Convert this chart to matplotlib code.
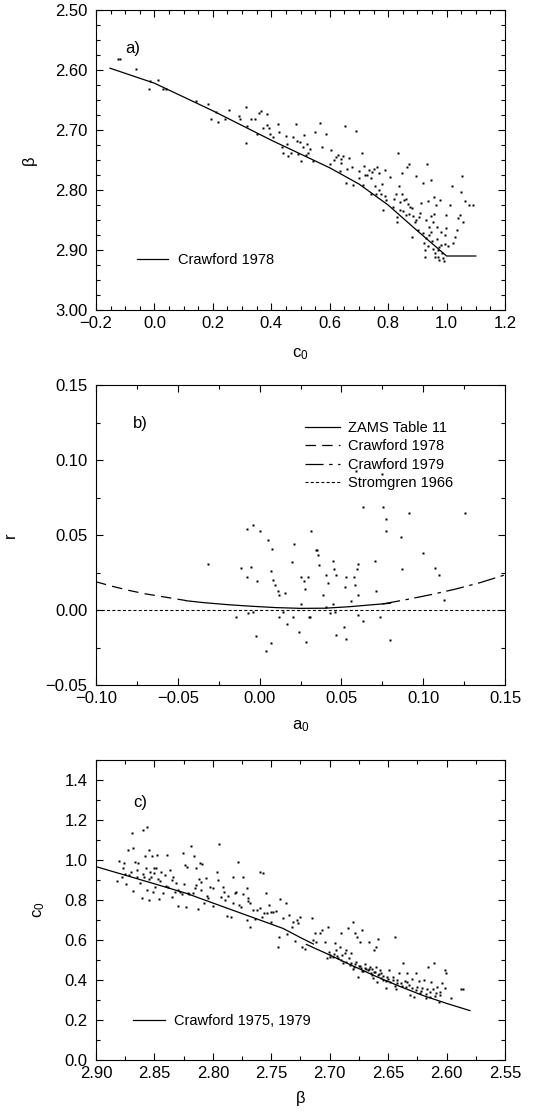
import matplotlib

matplotlib.use("Agg")
import matplotlib.pyplot as plt  # noqa: E402
from matplotlib.ticker import MultipleLocator  # noqa: E402

plt.rcParams["font.family"] = ["Liberation Sans", "DejaVu Sans"]
plt.rcParams["mathtext.default"] = "regular"
plt.rcParams["lines.scale_dashes"] = False
plt.rcParams["axes.linewidth"] = 0.8

FS = 12      # tick labels, axis labels, panel tags
LFS = 10.5   # legend text

# ---- panel a: beta vs c0 -------------------------------------------------
A_POINTS = [
    (-0.124, 2.581), (-0.118, 2.581), (-0.063, 2.599), (-0.020, 2.632), (-0.015, 2.619),
    (0.013, 2.617), (0.030, 2.631), (0.039, 2.632), (0.141, 2.651), (0.184, 2.657),
    (0.192, 2.681), (0.210, 2.670), (0.218, 2.686), (0.241, 2.681), (0.254, 2.666),
    (0.290, 2.676), (0.293, 2.682), (0.312, 2.721), (0.315, 2.662), (0.318, 2.693),
    (0.332, 2.682), (0.344, 2.681), (0.350, 2.707), (0.358, 2.671), (0.366, 2.669),
    (0.372, 2.697), (0.384, 2.691), (0.387, 2.674), (0.393, 2.696), (0.397, 2.707),
    (0.407, 2.711), (0.424, 2.690), (0.427, 2.704), (0.435, 2.728), (0.441, 2.739),
    (0.450, 2.710), (0.455, 2.723), (0.458, 2.744), (0.467, 2.739), (0.475, 2.712),
    (0.483, 2.690), (0.488, 2.718), (0.492, 2.740), (0.497, 2.720), (0.500, 2.752),
    (0.507, 2.728), (0.512, 2.709), (0.518, 2.741), (0.523, 2.724), (0.526, 2.738),
    (0.534, 2.732), (0.543, 2.752), (0.550, 2.703), (0.566, 2.688), (0.572, 2.729),
    (0.587, 2.706), (0.600, 2.756), (0.606, 2.733), (0.615, 2.750), (0.628, 2.741),
    (0.635, 2.768), (0.637, 2.749), (0.644, 2.743), (0.652, 2.694), (0.657, 2.788),
    (0.667, 2.747), (0.675, 2.762), (0.680, 2.791), (0.689, 2.701), (0.700, 2.768),
    (0.709, 2.738), (0.714, 2.792), (0.718, 2.760), (0.726, 2.775), (0.735, 2.767),
    (0.743, 2.806), (0.746, 2.770), (0.754, 2.794), (0.760, 2.806), (0.763, 2.761),
    (0.769, 2.772), (0.775, 2.807), (0.781, 2.834), (0.789, 2.767), (0.794, 2.817),
    (0.806, 2.778), (0.815, 2.828), (0.820, 2.815), (0.828, 2.806), (0.831, 2.854),
    (0.834, 2.738), (0.838, 2.794), (0.840, 2.833), (0.846, 2.772), (0.849, 2.807),
    (0.854, 2.816), (0.860, 2.842), (0.865, 2.761), (0.868, 2.823), (0.872, 2.756),
    (0.876, 2.828), (0.883, 2.878), (0.886, 2.844), (0.891, 2.854), (0.897, 2.777),
    (0.903, 2.867), (0.908, 2.839), (0.914, 2.821), (0.920, 2.788), (0.924, 2.889),
    (0.925, 2.911), (0.929, 2.850), (0.933, 2.756), (0.937, 2.819), (0.940, 2.875),
    (0.945, 2.844), (0.948, 2.783), (0.952, 2.853), (0.956, 2.811), (0.960, 2.911),
    (0.963, 2.825), (0.968, 2.861), (0.971, 2.900), (0.974, 2.917), (0.977, 2.816),
    (0.982, 2.892), (0.988, 2.914), (0.993, 2.875), (0.997, 2.842), (0.999, 2.864),
    (1.005, 2.894), (1.011, 2.825), (1.017, 2.794), (1.022, 2.889), (1.028, 2.878),
    (1.034, 2.867), (1.039, 2.846), (1.045, 2.842), (1.049, 2.803), (1.052, 2.776),
    (1.057, 2.853), (1.062, 2.819), (1.077, 2.825), (1.091, 2.825),
    (0.930, 2.880), (0.935, 2.893), (0.945, 2.870), (0.950, 2.885), (0.955, 2.898),
    (0.962, 2.905), (0.966, 2.882), (0.970, 2.912), (0.975, 2.895), (0.980, 2.870),
    (0.985, 2.905), (0.990, 2.918), (0.995, 2.890), (0.920, 2.872), (0.940, 2.862),
    (0.958, 2.840), (0.925, 2.900), (0.840, 2.820), (0.850, 2.835), (0.830, 2.845),
    (0.870, 2.840), (0.860, 2.815), (0.880, 2.830), (0.895, 2.850), (0.905, 2.845),
    (0.620, 2.745), (0.640, 2.755), (0.660, 2.765), (0.720, 2.775), (0.740, 2.780),
    (0.770, 2.800), (0.780, 2.790), (0.790, 2.810), (0.750, 2.765), (0.700, 2.780),
]
A_LINE_C0 = [-0.152, 0.0, 0.2, 0.4, 0.6, 0.7, 0.8, 0.9, 1.0, 1.10]
A_LINE_BETA = [2.597, 2.622, 2.668, 2.717, 2.763, 2.790, 2.825, 2.868, 2.910, 2.910]

# ---- panel b: r vs a0 ----------------------------------------------------
B_POINTS = [
    (-0.0314, 0.0308), (-0.0116, 0.0281), (-0.0076, 0.0219), (-0.0076, 0.0539),
    (-0.0053, 0.0290), (-0.0043, 0.0566), (-0.0070, -0.0022), (-0.0039, -0.0011),
    (-0.0147, -0.0044), (-0.0025, -0.0173), (-0.0013, 0.0192), (0.0004, 0.0530),
    (0.0053, 0.0468), (0.0067, 0.0259), (0.0075, 0.0405), (0.0083, 0.0201),
    (0.0095, 0.0170), (0.0114, 0.0130), (0.0116, 0.0098), (0.0116, -0.0044),
    (0.0067, -0.0222), (0.0042, -0.0271), (0.0144, -0.0011), (0.0154, 0.0114),
    (0.0169, -0.0093), (0.0201, 0.0317), (0.0205, -0.0044), (0.0209, 0.0441),
    (0.0242, -0.0144), (0.0256, 0.0040), (0.0256, 0.0219), (0.0270, 0.0192),
    (0.0276, 0.0139), (0.0283, -0.0213), (0.0297, 0.0219), (0.0303, -0.0044),
    (0.0311, -0.0044), (0.0317, 0.0530), (0.0342, 0.0399), (0.0352, 0.0397),
    (0.0358, 0.0370), (0.0364, 0.0299), (0.0388, 0.0098), (0.0405, 0.0236),
    (0.0405, 0.0023), (0.0419, 0.0179), (0.0433, -0.0022), (0.0446, 0.0325),
    (0.0450, 0.0040), (0.0456, 0.0272), (0.0466, 0.0236), (0.0460, -0.0011),
    (0.0470, -0.0164), (0.0521, 0.0156), (0.0517, -0.0111), (0.0531, 0.0219),
    (0.0531, -0.0191), (0.0561, 0.0058), (0.0578, 0.0219), (0.0582, 0.0167),
    (0.0596, 0.0272), (0.0602, 0.0308), (0.0602, 0.0098), (0.0602, -0.0033),
    (0.0633, 0.0690), (0.0633, -0.0075), (0.0708, 0.0325), (0.0714, 0.0130),
    (0.0735, -0.0044), (0.0755, 0.0690), (0.0775, 0.0610), (0.0775, 0.0530),
    (0.0796, -0.0200), (0.0867, 0.0486), (0.0873, 0.0272), (0.0914, 0.0650),
    (0.0999, 0.0379), (0.1070, 0.0281), (0.1097, 0.0236), (0.1125, 0.0067),
    (0.1258, 0.0650), (0.0587, 0.0927), (0.0746, 0.0907),
]
ZAMS_A0 = [-0.045, -0.035, -0.02, -0.005, 0.01, 0.025, 0.04, 0.055, 0.07, 0.08]
ZAMS_R = [0.0062, 0.0050, 0.0036, 0.0025, 0.0016, 0.0011, 0.0012, 0.0022, 0.0036, 0.0045]
C78_A0 = [-0.10, -0.09, -0.08, -0.07, -0.06, -0.05, -0.045]
C78_R = [0.0188, 0.0158, 0.0131, 0.0108, 0.0090, 0.0072, 0.0063]
C79_A0 = [0.075, 0.09, 0.105, 0.12, 0.135, 0.15]
C79_R = [0.0040, 0.0070, 0.0103, 0.0140, 0.0183, 0.0234]
S66_A0 = [-0.10, 0.15]
S66_R = [0.0, 0.0]

# ---- panel c: c0 vs beta -------------------------------------------------
C_POINTS = [
    (2.8823, 0.897), (2.880, 0.997), (2.878, 0.913), (2.8766, 0.958), (2.876, 0.983),
    (2.8743, 0.880), (2.8723, 1.050), (2.8715, 0.925), (2.8704, 0.942), (2.8695, 1.133),
    (2.8686, 0.847), (2.868, 1.058), (2.8667, 0.992), (2.8652, 0.917), (2.864, 0.987),
    (2.8624, 0.883), (2.861, 0.808), (2.8595, 1.150), (2.859, 0.917), (2.858, 1.020),
    (2.8573, 0.958), (2.8567, 1.163), (2.856, 0.850), (2.855, 1.050), (2.8547, 0.800),
    (2.8538, 0.942), (2.853, 0.913), (2.8518, 1.020), (2.851, 0.842), (2.850, 0.933),
    (2.8496, 0.867), (2.8487, 0.958), (2.848, 1.025), (2.8467, 0.903), (2.8458, 0.803),
    (2.8447, 0.942), (2.843, 0.833), (2.841, 0.925), (2.8396, 1.025), (2.838, 0.867),
    (2.8367, 0.950), (2.8353, 0.817), (2.834, 0.913), (2.8325, 0.842), (2.8316, 0.883),
    (2.8296, 0.770), (2.828, 0.842), (2.8267, 0.830), (2.8253, 1.037), (2.824, 0.975),
    (2.823, 0.767), (2.822, 0.963), (2.821, 0.837), (2.819, 1.070), (2.8173, 0.833),
    (2.816, 1.020), (2.8145, 0.875), (2.814, 0.958), (2.8125, 0.753), (2.8116, 0.903),
    (2.811, 0.983), (2.810, 0.850), (2.8097, 0.980), (2.8077, 0.783), (2.806, 0.908),
    (2.804, 0.808), (2.8025, 0.867), (2.8002, 0.770), (2.7968, 0.942), (2.7954, 0.900),
    (2.7945, 1.080), (2.7934, 0.817), (2.7917, 0.867), (2.7906, 0.842), (2.7883, 0.722),
    (2.7869, 0.820), (2.7849, 0.713), (2.7831, 0.913), (2.7826, 0.787), (2.7811, 0.837),
    (2.7783, 0.992), (2.7774, 0.775), (2.7763, 0.767), (2.7746, 0.917), (2.774, 0.830),
    (2.7712, 0.700), (2.7706, 0.858), (2.7698, 0.797), (2.7683, 0.667), (2.7678, 0.787),
    (2.766, 0.750), (2.764, 0.703), (2.7626, 0.750), (2.7598, 0.942), (2.7583, 0.717),
    (2.757, 0.933), (2.756, 0.737), (2.7546, 0.837), (2.7535, 0.733), (2.7518, 0.775),
    (2.7506, 0.692), (2.7484, 0.742), (2.746, 0.747), (2.744, 0.567), (2.7432, 0.613),
    (2.7427, 0.803), (2.7404, 0.708), (2.7375, 0.787), (2.7364, 0.630), (2.7347, 0.725),
    (2.7327, 0.667), (2.731, 0.692), (2.7298, 0.597), (2.7284, 0.700), (2.727, 0.687),
    (2.7256, 0.713), (2.7241, 0.567), (2.7213, 0.553), (2.715, 0.708), (2.7142, 0.600),
    (2.7128, 0.637), (2.712, 0.592), (2.7085, 0.637), (2.7062, 0.650), (2.7042, 0.592),
    (2.7013, 0.663), (2.7022, 0.508), (2.7005, 0.542), (2.6994, 0.525), (2.6976, 0.513),
    (2.6956, 0.583), (2.6948, 0.550), (2.6937, 0.520), (2.6928, 0.508), (2.6914, 0.563),
    (2.690, 0.637), (2.6891, 0.525), (2.6885, 0.487), (2.6871, 0.533), (2.6857, 0.550),
    (2.6842, 0.658), (2.6834, 0.508), (2.6828, 0.475), (2.6814, 0.533), (2.6805, 0.692),
    (2.6794, 0.467), (2.6786, 0.633), (2.6777, 0.492), (2.6765, 0.617), (2.6757, 0.417),
    (2.6748, 0.470), (2.6737, 0.592), (2.6728, 0.458), (2.672, 0.650), (2.6714, 0.447),
    (2.670, 0.480), (2.6686, 0.453), (2.6671, 0.450), (2.6663, 0.592), (2.6651, 0.467),
    (2.6643, 0.433), (2.6634, 0.453), (2.6629, 0.408), (2.6623, 0.550), (2.6614, 0.442),
    (2.6606, 0.567), (2.660, 0.467), (2.6594, 0.392), (2.6586, 0.603), (2.6586, 0.425),
    (2.6572, 0.450), (2.6557, 0.433), (2.6543, 0.400), (2.652, 0.358), (2.6509, 0.413),
    (2.6492, 0.450), (2.648, 0.392), (2.6458, 0.417), (2.6443, 0.613), (2.6435, 0.353),
    (2.6423, 0.400), (2.6406, 0.433), (2.6386, 0.383), (2.6372, 0.487), (2.6358, 0.397),
    (2.635, 0.363), (2.6338, 0.437), (2.6321, 0.375), (2.631, 0.325), (2.6292, 0.403),
    (2.6281, 0.313), (2.6264, 0.433), (2.6252, 0.367), (2.6235, 0.397), (2.6224, 0.333),
    (2.6207, 0.358), (2.6196, 0.400), (2.6178, 0.308), (2.6167, 0.353), (2.6158, 0.467),
    (2.6144, 0.313), (2.613, 0.392), (2.6116, 0.353), (2.6107, 0.483), (2.6093, 0.333),
    (2.6082, 0.367), (2.6064, 0.292), (2.6053, 0.342), (2.6036, 0.383), (2.6016, 0.358),
    (2.6013, 0.450), (2.6007, 0.433), (2.5959, 0.308), (2.5873, 0.353), (2.5859, 0.353),
    (2.690, 0.500), (2.686, 0.492), (2.682, 0.485), (2.678, 0.478), (2.674, 0.470),
    (2.670, 0.462), (2.666, 0.455), (2.662, 0.440), (2.658, 0.432), (2.654, 0.420),
    (2.650, 0.405), (2.646, 0.398), (2.642, 0.385), (2.638, 0.372), (2.634, 0.388),
    (2.630, 0.360), (2.626, 0.352), (2.622, 0.345), (2.618, 0.330), (2.614, 0.342),
    (2.610, 0.318), (2.606, 0.325), (2.700, 0.515), (2.696, 0.530), (2.680, 0.455),
    (2.672, 0.445), (2.664, 0.425), (2.656, 0.412), (2.652, 0.395), (2.644, 0.372),
    (2.860, 0.930), (2.855, 0.905), (2.850, 0.960), (2.845, 0.895), (2.840, 0.870),
    (2.835, 0.900), (2.830, 0.850), (2.825, 0.880), (2.820, 0.830), (2.815, 0.860),
    (2.810, 0.890), (2.805, 0.820), (2.800, 0.860), (2.790, 0.800), (2.780, 0.840),
    (2.770, 0.810), (2.760, 0.760), (2.750, 0.740), (2.865, 0.950), (2.875, 0.930),
]
C79_BETA = [2.90, 2.85, 2.8225, 2.80, 2.7655, 2.74, 2.725, 2.714]
C79_C0 = [0.967, 0.881, 0.833, 0.785, 0.712, 0.658, 0.612, 0.580]
C75_BETA = [2.720, 2.70, 2.68, 2.66, 2.64, 2.62, 2.60, 2.58]
C75_C0 = [0.578, 0.525, 0.470, 0.417, 0.368, 0.322, 0.283, 0.247]

W, H = 533, 1112


def frame(top, bottom):
    left, right = 96, 505
    return [left / W, 1 - bottom / H, (right - left) / W, (bottom - top) / H]


def style(ax, xmaj, xmin, ymaj, ymin):
    ax.xaxis.set_major_locator(MultipleLocator(xmaj))
    ax.xaxis.set_minor_locator(MultipleLocator(xmin))
    ax.yaxis.set_major_locator(MultipleLocator(ymaj))
    ax.yaxis.set_minor_locator(MultipleLocator(ymin))
    ax.tick_params(which="both", direction="in", top=True, right=True, width=0.8,
                   labelsize=FS, colors="black")
    ax.tick_params(which="major", length=5)
    ax.tick_params(which="minor", length=2.8)
    ax.tick_params(axis="x", pad=4)
    ax.tick_params(axis="y", pad=6)


def dots(ax, pts):
    xs, ys = zip(*pts)
    ax.plot(xs, ys, "s", ms=1.7, mfc="black", mec="none", ls="none")


fig = plt.figure(figsize=(W / 100, H / 100), dpi=100)

# a)
ax = fig.add_axes(frame(10, 310))
dots(ax, A_POINTS)
ax.plot(A_LINE_C0, A_LINE_BETA, color="black", lw=0.9, label="Crawford 1978")
ax.set_xlim(-0.2, 1.2)
ax.set_ylim(3.0, 2.5)
style(ax, 0.2, 0.05, 0.1, 0.025)
ax.yaxis.set_major_formatter(lambda v, p: f"{v:.2f}")
ax.set_xlabel("c$_0$", fontsize=FS, va="baseline")
ax.xaxis.set_label_coords(0.5, -0.157)
ax.set_ylabel("β", fontsize=FS)
ax.yaxis.set_label_coords(-0.144, 0.5)
ax.text(0.071, 0.873, "a)", transform=ax.transAxes, fontsize=FS, va="center")
ax.legend(loc="center left", bbox_to_anchor=(0.1, 0.167), frameon=False, fontsize=LFS,
          handlelength=2.1, handletextpad=0.7, borderpad=0, borderaxespad=0)

# b)
ax = fig.add_axes(frame(385, 685))
dots(ax, B_POINTS)
ax.plot(ZAMS_A0, ZAMS_R, color="black", lw=0.9, label="ZAMS Table 11")
ax.plot(C78_A0, C78_R, color="black", lw=0.9, dashes=(7.5, 4.5), label="Crawford 1978")
ax.plot(C79_A0, C79_R, color="black", lw=0.9, dashes=(13, 4, 2.5, 4), label="Crawford 1979")
ax.plot(S66_A0, S66_R, color="black", lw=0.8, dashes=(2.2, 1.6), label="Stromgren 1966")
ax.set_xlim(-0.10, 0.15)
ax.set_ylim(-0.05, 0.15)
style(ax, 0.05, 0.025, 0.05, 0.025)
ax.set_xlabel("a$_0$", fontsize=FS, va="baseline")
ax.xaxis.set_label_coords(0.5, -0.147)
ax.set_ylabel("r", fontsize=FS)
ax.yaxis.set_label_coords(-0.19, 0.5)
ax.text(0.09, 0.873, "b)", transform=ax.transAxes, fontsize=FS, va="center")
ax.legend(loc="upper left", bbox_to_anchor=(0.511, 0.88), frameon=False, fontsize=LFS,
          handlelength=2.4, handletextpad=0.55, labelspacing=0.3,
          borderpad=0, borderaxespad=0)

# c)
ax = fig.add_axes(frame(760, 1060))
dots(ax, C_POINTS)
ax.plot(C79_BETA, C79_C0, color="black", lw=0.9, label="Crawford 1975, 1979")
ax.plot(C75_BETA, C75_C0, color="black", lw=0.9)
ax.set_xlim(2.90, 2.55)
ax.set_ylim(0.0, 1.5)
style(ax, 0.05, 0.025, 0.2, 0.1)
ax.set_xlabel("β", fontsize=FS, va="baseline")
ax.xaxis.set_label_coords(0.5, -0.143)
ax.set_ylabel("c$_0$", fontsize=FS)
ax.yaxis.set_label_coords(-0.12, 0.5)
ax.text(0.09, 0.857, "c)", transform=ax.transAxes, fontsize=FS, va="center")
ax.legend(loc="center left", bbox_to_anchor=(0.09, 0.13), frameon=False, fontsize=LFS,
          handlelength=2.2, handletextpad=0.6, borderpad=0, borderaxespad=0)

fig.savefig("out.png", dpi=100, facecolor="white")
